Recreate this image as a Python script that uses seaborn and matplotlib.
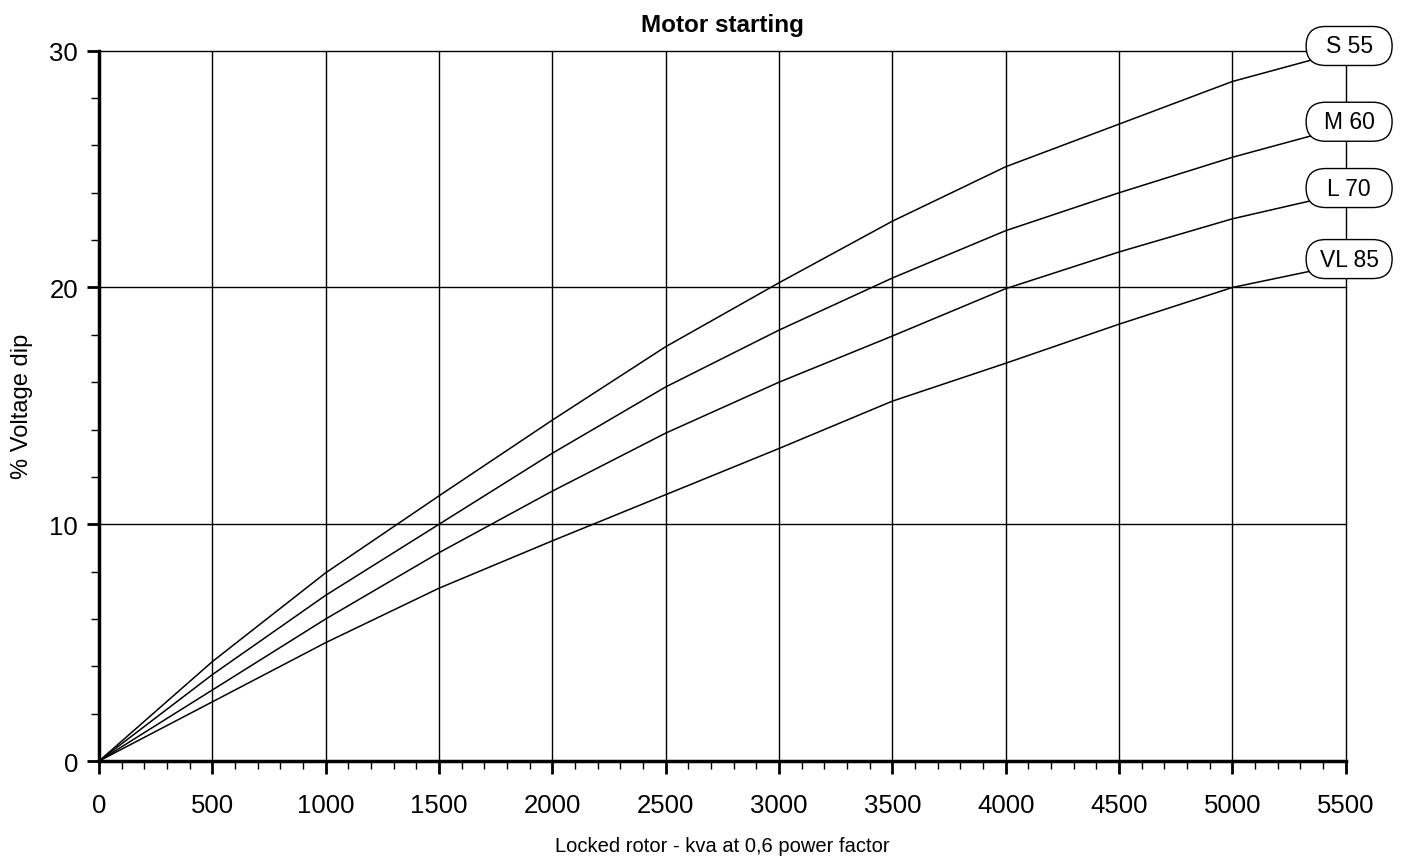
import numpy as np
import pandas as pd
import matplotlib
matplotlib.use("Agg")
import matplotlib.pyplot as plt
from matplotlib.ticker import MultipleLocator
from matplotlib.patches import BoxStyle
import seaborn as sns

# kVA values (locked rotor at 0,6 pf)
kva = [0, 500, 1000, 1500, 2000, 2500, 3000, 3500, 4000, 4500, 5000, 5500]

# % voltage dip
dip_s55 = [0, 4.2, 7.95, 11.2, 14.4, 17.5, 20.2, 22.8, 25.1, 26.9, 28.7, 30.0]
dip_m60 = [0, 3.65, 7.0, 10.0, 13.0, 15.8, 18.2, 20.4, 22.4, 24.0, 25.5, 26.8]
dip_l70 = [0, 3.0, 6.0, 8.8, 11.4, 13.85, 16.0, 17.95, 19.95, 21.5, 22.9, 24.0]
dip_vl85 = [0, 2.5, 5.0, 7.3, 9.3, 11.25, 13.2, 15.2, 16.8, 18.45, 20.0, 21.0]

series_names = ["S 55", "M 60", "L 70", "VL 85"]
series_values = [dip_s55, dip_m60, dip_l70, dip_vl85]

x_ticks = [0, 500, 1000, 1500, 2000, 2500, 3000, 3500, 4000, 4500, 5000, 5500]
y_ticks = [0, 10, 20, 30]

df = pd.DataFrame({
    "kva": kva * len(series_names),
    "dip": [v for vals in series_values for v in vals],
    "alternator": [n for n in series_names for _ in kva],
})


def pill(x0, y0, width, height, mutation_size):
    """Fixed size pill shape (pixels) centred on the label text"""
    w, h = 86, 39
    cx, cy = x0 + width / 2, y0 + height / 2
    return BoxStyle.Round(pad=0, rounding_size=h / 2)(cx - w / 2, cy - h / 2, w, h, 1)


sns.set_style("white")
plt.rcParams["font.family"] = ["Liberation Sans", "DejaVu Sans"]
plt.rcParams["text.color"] = "black"
plt.rcParams["axes.labelcolor"] = "black"
plt.rcParams["xtick.color"] = "black"
plt.rcParams["ytick.color"] = "black"

fig = plt.figure(figsize=(14.05, 8.62), dpi=100)
ax = fig.add_axes([0.0705, 0.116, 0.8873, 0.824])

# grid first so curves sit on top
for xv in x_ticks[1:]:
    ax.axvline(xv, color="black", lw=1.0, zorder=1, clip_on=False)
for yv in y_ticks[1:]:
    ax.axhline(yv, color="black", lw=1.0, zorder=1, clip_on=False)

sns.lineplot(data=df, x="kva", y="dip", hue="alternator",
             palette={n: "black" for n in series_names},
             legend=False, sort=False, lw=1.1, ax=ax, zorder=3)

# pill-shaped labels at the end of each curve
for name, vals in zip(series_names, series_values):
    ax.text(kva[-1] + 15, vals[-1] + 0.2, name, ha="center", va="center",
            fontsize=16.5, zorder=5, clip_on=False,
            bbox=dict(boxstyle=pill, fc="white", ec="black", lw=1.0))

ax.set_xlim(0, 5500)
ax.set_ylim(0, 30)
ax.set_xticks(x_ticks)
ax.set_yticks(y_ticks)
ax.xaxis.set_minor_locator(MultipleLocator(100))
ax.yaxis.set_minor_locator(MultipleLocator(2))
ax.tick_params(axis="both", which="both", bottom=True, left=True)
ax.tick_params(axis="both", which="major", direction="out", length=9, width=2,
               labelsize=18.5)
ax.tick_params(axis="x", which="major", pad=14)
ax.tick_params(axis="y", which="major", pad=6)
ax.tick_params(axis="both", which="minor", direction="out", length=6, width=1)

for side in ["top", "right"]:
    ax.spines[side].set_visible(False)
for side in ["left", "bottom"]:
    ax.spines[side].set_linewidth(2.5)
    ax.spines[side].set_color("black")

ax.set_xlabel("Locked rotor - kva at 0,6 power factor", fontsize=14.5, labelpad=14)
ax.set_ylabel("% Voltage dip", fontsize=17, labelpad=12)
ax.set_title("Motor starting", fontsize=17.5, fontweight="bold", pad=14)

fig.savefig("out.png", dpi=100)
